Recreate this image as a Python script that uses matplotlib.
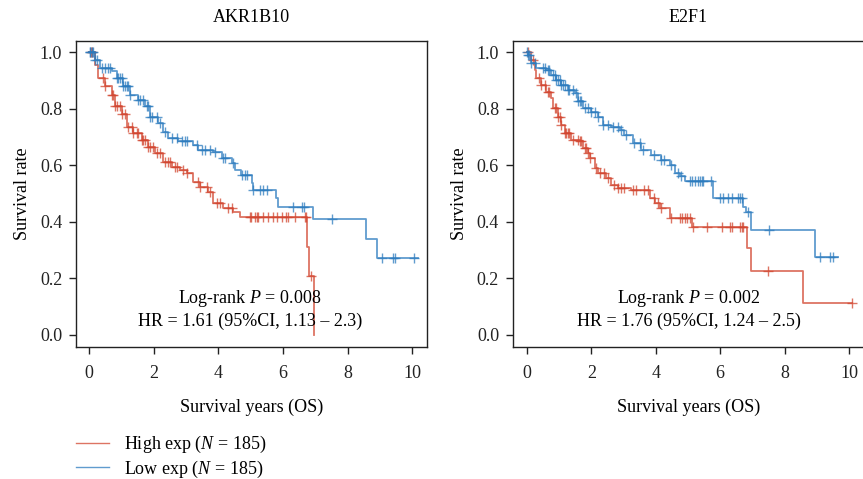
import numpy as np
import matplotlib
matplotlib.use("Agg")
import matplotlib.pyplot as plt
from matplotlib.lines import Line2D

plt.rcParams['font.family'] = ['Liberation Serif', 'DejaVu Serif']
plt.rcParams['mathtext.fontset'] = 'custom'
plt.rcParams['mathtext.rm'] = 'Liberation Serif'
plt.rcParams['mathtext.it'] = 'Liberation Serif:italic'

RED = '#D2452F'
BLUE = '#2B7BBE'

# AKR1B10 - high expression: step times / survival
akr_high_t = [0, 0.19, 0.29, 0.5, 0.7, 0.8, 1.01, 1.17, 1.37, 1.63, 1.84, 2.04, 2.3,
              2.56, 2.82, 3.02, 3.23, 3.44, 3.69, 3.85, 4.16, 4.47, 4.67, 6.74, 6.81, 6.95]
akr_high_s = [1.0, 0.955, 0.908, 0.88, 0.85, 0.81, 0.78, 0.737, 0.713, 0.69, 0.666, 0.643, 0.613,
              0.595, 0.583, 0.572, 0.542, 0.524, 0.506, 0.465, 0.447, 0.435, 0.418, 0.311, 0.207, 0.0]
akr_high_end = 6.95
akr_high_cens = [0.05, 0.1, 0.44, 0.5, 0.7, 0.75, 0.81, 0.86, 0.96, 1.01, 1.11, 1.22, 1.32, 1.37,
                 1.48, 1.53, 1.63, 1.68, 1.73, 1.84, 1.89, 1.99, 2.1, 2.2, 2.35, 2.46, 2.51, 2.66,
                 2.71, 2.92, 3.02, 3.38, 3.44, 3.64, 3.75, 3.95, 4.05, 4.31, 4.42, 4.98, 5.02,
                 5.14, 5.19, 5.24, 5.38, 5.55, 5.71, 5.83, 5.98, 6.1, 6.17, 6.38, 6.69, 6.72, 6.87]

# AKR1B10 - low expression
akr_low_t = [0, 0.19, 0.34, 0.7, 0.86, 1.06, 1.27, 1.53, 1.73, 1.89, 2.15, 2.3, 2.46, 2.77,
             3.23, 3.38, 3.85, 4.11, 4.42, 4.52, 4.7, 5.03, 5.09, 5.79, 5.84, 6.92, 8.57, 8.9]
akr_low_s = [1.0, 0.973, 0.944, 0.932, 0.908, 0.879, 0.849, 0.832, 0.808, 0.772, 0.749, 0.719,
             0.696, 0.684, 0.672, 0.654, 0.648, 0.625, 0.607, 0.583, 0.566, 0.536, 0.512, 0.483,
             0.453, 0.408, 0.340, 0.27]
akr_low_end = 10.19
akr_low_cens = [0.02, 0.03, 0.08, 0.13, 0.19, 0.24, 0.39, 0.5, 0.6, 0.65, 0.86, 0.91, 0.96, 1.01,
                1.06, 1.11, 1.17, 1.22, 1.27, 1.53, 1.58, 1.68, 1.79, 1.84, 1.89, 1.94, 2.1, 2.2,
                2.35, 2.56, 2.71, 2.87, 2.97, 3.02, 3.33, 3.49, 3.59, 3.75, 3.9, 4.16, 4.21, 4.47,
                4.73, 4.83, 4.88, 5.09, 5.29, 5.4, 5.5, 6.31, 6.59, 6.64, 7.51, 9.06, 9.42, 9.47, 10.06]

# E2F1 - high expression
e2f_high_t = [0, 0.13, 0.24, 0.29, 0.44, 0.6, 0.75, 0.81, 0.96, 1.07, 1.17, 1.38, 1.64, 1.74,
              1.89, 1.95, 2.1, 2.2, 2.46, 2.62, 2.83, 3.24, 3.81, 3.97, 4.12, 4.43, 5.11, 6.82,
              6.96, 8.58]
e2f_high_s = [1.0, 0.973, 0.938, 0.908, 0.885, 0.861, 0.838, 0.802, 0.772, 0.743, 0.713, 0.69,
              0.684, 0.66, 0.643, 0.625, 0.589, 0.572, 0.554, 0.53, 0.518, 0.512, 0.483, 0.465,
              0.447, 0.412, 0.382, 0.306, 0.226, 0.111]
e2f_high_end = 10.08
e2f_high_cens = [0.03, 0.19, 0.39, 0.45, 0.55, 0.65, 0.7, 0.86, 0.91, 0.96, 1.02, 1.07, 1.17,
                 1.22, 1.27, 1.32, 1.43, 1.58, 1.64, 1.69, 1.79, 1.84, 1.89, 1.95, 2.15, 2.26,
                 2.41, 2.52, 2.72, 2.83, 2.93, 3.03, 3.29, 3.4, 3.65, 3.76, 3.96, 4.07, 4.17,
                 4.48, 4.74, 4.8, 4.9, 4.96, 5.05, 5.15, 5.58, 6.05, 6.3, 6.36, 6.61, 6.67, 6.72,
                 7.49, 10.08]

# E2F1 - low expression
e2f_low_t = [0, 0.03, 0.13, 0.29, 0.6, 0.75, 0.91, 1.07, 1.27, 1.48, 1.58, 1.74, 2.0, 2.2,
             2.36, 2.62, 2.88, 3.03, 3.29, 3.55, 3.86, 4.17, 4.43, 4.59, 4.75, 4.91, 5.79, 6.72,
             6.8, 6.96, 8.94]
e2f_low_s = [1.0, 0.99, 0.962, 0.944, 0.938, 0.92, 0.902, 0.885, 0.867, 0.855, 0.826, 0.802,
             0.79, 0.772, 0.743, 0.737, 0.725, 0.707, 0.678, 0.654, 0.637, 0.619, 0.601, 0.572,
             0.56, 0.545, 0.485, 0.453, 0.435, 0.371, 0.276]
e2f_low_end = 9.67
e2f_low_cens = [0.01, 0.03, 0.08, 0.13, 0.24, 0.5, 0.55, 0.65, 0.7, 0.81, 0.86, 0.91, 0.96, 1.02,
                1.07, 1.12, 1.17, 1.27, 1.32, 1.43, 1.53, 1.58, 1.64, 1.69, 1.79, 1.89, 2.0, 2.1,
                2.2, 2.36, 2.52, 2.67, 2.83, 2.93, 3.09, 3.34, 3.5, 3.6, 3.96, 4.17, 4.27, 4.48,
                4.69, 4.79, 5.05, 5.11, 5.22, 5.32, 5.37, 5.43, 5.48, 5.72, 5.99, 6.1, 6.25, 6.36,
                6.56, 6.61, 6.67, 6.87, 7.52, 9.1, 9.41, 9.51]

titles = ['AKR1B10', 'E2F1']
pvals = ['0.008', '0.002']
hrs = ['HR = 1.61 (95%CI, 1.13 \u2013 2.3)', 'HR = 1.76 (95%CI, 1.24 \u2013 2.5)']
legend_labels = ['High exp ($N$ = 185)', 'Low exp ($N$ = 185)']

FS = 13


def km(ax, t, s, end, cens, color):
    t = np.array(t + [end])
    s = np.array(s + [s[-1]])
    ax.step(t, s, where='post', color=color, lw=1.3, alpha=0.75)
    idx = np.searchsorted(t, np.array(cens), side='right') - 1
    ax.plot(cens, s[idx], ls='none', marker='+', ms=7.5, mew=1.0, color=color, alpha=0.75)


fig = plt.figure(figsize=(8.63, 4.79), dpi=100)
ax1 = fig.add_axes([0.0881, 0.2756, 0.4067, 0.6388])
ax2 = fig.add_axes([0.5944, 0.2756, 0.4067, 0.6388])

km(ax1, akr_high_t, akr_high_s, akr_high_end, akr_high_cens, RED)
km(ax1, akr_low_t, akr_low_s, akr_low_end, akr_low_cens, BLUE)
km(ax2, e2f_high_t, e2f_high_s, e2f_high_end, e2f_high_cens, RED)
km(ax2, e2f_low_t, e2f_low_s, e2f_low_end, e2f_low_cens, BLUE)

for ax, title, p, hr, x0, xc in zip([ax1, ax2], titles, pvals, hrs, [-0.40, -0.43], [0.496, 0.501]):
    ax.set_xlim(x0, 10.46)
    ax.set_ylim(-0.044, 1.04)
    ax.set_xticks([0, 2, 4, 6, 8, 10])
    ax.set_yticks([0.0, 0.2, 0.4, 0.6, 0.8, 1.0])
    ax.set_yticklabels(['0.0', '0.2', '0.4', '0.6', '0.8', '1.0'])
    ax.tick_params(direction='out', length=5, width=1.0, labelsize=FS, colors='#222222', pad=5)
    ax.tick_params(axis='x', pad=8)
    for sp in ax.spines.values():
        sp.set_linewidth(1.0)
        sp.set_color('#222222')
    ax.set_title(title, fontsize=FS, pad=14)
    ax.set_xlabel('Survival years (OS)', fontsize=FS, labelpad=12)
    ax.set_ylabel('Survival rate', fontsize=FS, labelpad=6)
    ax.text(xc, 0.16, 'Log-rank $P$ = ' + p, transform=ax.transAxes, ha='center',
            va='center', fontsize=FS)
    ax.text(xc, 0.085, hr, transform=ax.transAxes, ha='center', va='center', fontsize=FS)

handles = [Line2D([], [], color=RED, lw=1.0, alpha=0.75),
           Line2D([], [], color=BLUE, lw=1.0, alpha=0.75)]
fig.legend(handles, legend_labels, loc='upper left', bbox_to_anchor=(0.088, 0.094),
           frameon=False, fontsize=FS, handlelength=1.85, handletextpad=0.8,
           labelspacing=0.2, borderaxespad=0, borderpad=0)

fig.savefig('out.png', dpi=100)
